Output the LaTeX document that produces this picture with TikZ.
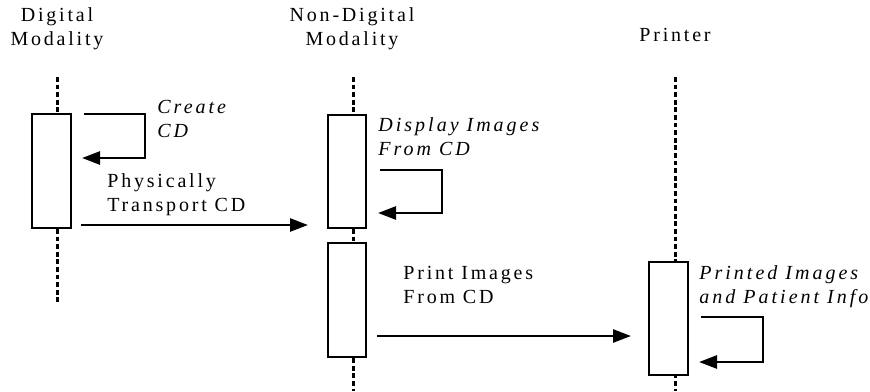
\documentclass[tikz,border=0pt]{standalone}
\usepackage{fontspec}
\setmainfont{Liberation Serif}
\newfontfamily\lsrm[LetterSpace=14]{Liberation Serif}
\newfontfamily\lsit[LetterSpace=15]{Liberation Serif}
\usetikzlibrary{arrows.meta}

\begin{document}
\begin{tikzpicture}[
      x=0.5pt,y=-0.5pt,
      every node/.style={font=\lsrm\fontsize{10}{12}\selectfont,inner sep=0pt},
      hdr/.style={align=center,anchor=base},
      lbl/.style={align=left,anchor=base west},
      ilbl/.style={lbl,font=\lsit\itshape\fontsize{10}{12}\selectfont},
      act/.style={draw,line width=1pt,fill=white,minimum width=19.5pt,minimum height=57pt},
      life/.style={line width=1.5pt,dash pattern=on 2.4pt off 1.4pt},
      msg/.style={line width=1.3pt,-{Triangle[length=9pt,width=6.5pt]}}
    ]
    \useasboundingbox (0,0) rectangle (870,391);
    % participants
    \node[hdr] (dig) at (57,45) {Digital\\Modality};
    \node[hdr] (ndig) at (352,45) {Non-Digital\\Modality};
    \node[hdr] (prn) at (675,41) {Printer};
    % lifelines
    \coordinate (dig-top) at (57,77);   \coordinate (dig-end) at (57,302);
    \coordinate (ndig-top) at (353,77); \coordinate (ndig-end) at (353,391);
    \coordinate (prn-top) at (675,77);  \coordinate (prn-end) at (675,391);
    \foreach \a/\b in {dig-top/dig-end,ndig-top/ndig-end,prn-top/prn-end}{\draw[life] (\a) -- (\b);}
    % activations
    \node[act] (act1) at (51.5,171) {};
    \node[act,minimum width=19pt,minimum height=56.5pt] (act2) at (347,171.5) {};
    \node[act,minimum width=19pt] (act3) at (347,300) {};
    \node[act,minimum height=56.5pt] (act4) at (668.5,318.5) {};
    % self messages
    \coordinate (cr-in) at (84,114);  \coordinate (cr-out) at (82,158);
    \draw[msg] (cr-in) -- ++(61,0) |- (cr-out);
    \coordinate (ds-in) at (380,170); \coordinate (ds-out) at (378,213);
    \draw[msg] (ds-in) -- ++(62,0) |- (ds-out);
    \coordinate (pi-in) at (701,317); \coordinate (pi-out) at (699,362);
    \draw[msg] (pi-in) -- ++(62,0) |- (pi-out);
    % messages
    \coordinate (tr-s) at (81,225);  \coordinate (tr-e) at (308,225);
    \draw[msg] (tr-s) -- (tr-e);
    \coordinate (pr-s) at (377,336); \coordinate (pr-e) at (631,336);
    \draw[msg] (pr-s) -- (pr-e);
    % labels
    \node[ilbl] (l-create) at (157,137) {Create\\CD};
    \node[ilbl] (l-disp) at (378,155) {Display Images\\From CD};
    \node[lbl] (l-trans) at (107,211) {Physically\\Transport CD};
    \node[lbl] (l-print) at (403,303) {Print Images\\From CD};
    \node[ilbl] (l-prtd) at (699,303) {Printed Images\\and Patient Info};
  \end{tikzpicture}
\end{document}
